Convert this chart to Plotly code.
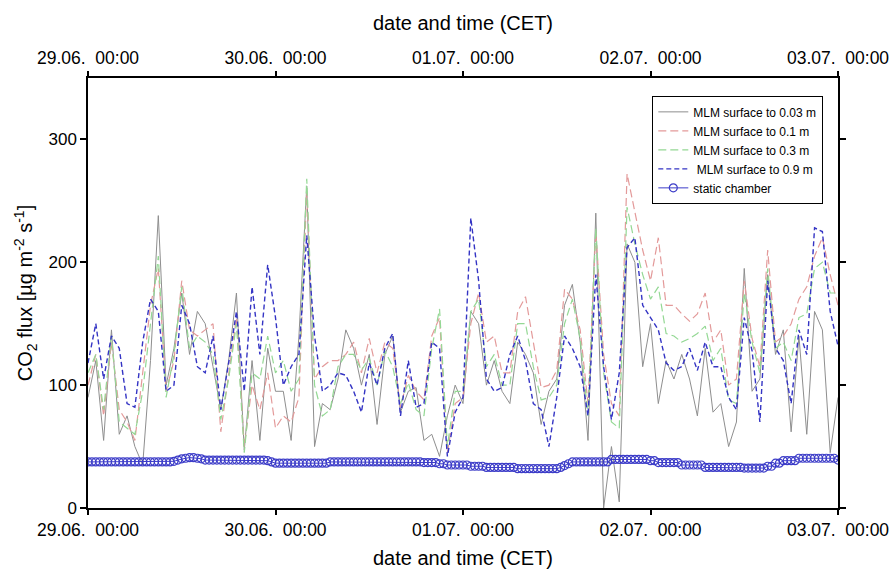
import pandas as pd
import plotly.graph_objects as go

# ---------------- data ----------------
start = "2010-06-29 00:00"
hours = pd.date_range(start, periods=97, freq="1h")
half_hours = pd.date_range(start, periods=193, freq="30min")

mlm_003 = [90, 120, 55, 145, 60, 75, 50, 35, 120, 238, 100, 130, 175, 125, 160, 150, 115, 80, 120, 175, 47, 120, 55, 130, 95,
           95, 55, 140, 262, 50, 85, 80, 105, 145, 130, 100, 125, 68, 125, 140, 78, 95, 98, 55, 60, 42, 75, 100, 85,
           160, 150, 100, 120, 95, 85, 135, 125, 110, 68, 95, 105, 165, 182, 135, 55, 240, 0, 50, 5, 215, 200, 115, 150,
           85, 120, 105, 125, 105, 75, 130, 78, 85, 50, 70, 195, 95, 105, 190, 125, 145, 62, 140, 60, 160, 145, 45, 90]

mlm_01 = [100, 125, 75, 135, 80, 70, 55, 110, 165, 195, 95, 120, 185, 145, 140, 145, 150, 62, 110, 155, 50, 100, 80, 110, 65,
          75, 70, 90, 258, 105, 115, 120, 120, 125, 135, 110, 138, 110, 135, 130, 82, 108, 95, 88, 140, 155, 45, 85, 90,
          150, 175, 135, 140, 110, 110, 160, 172, 135, 98, 100, 112, 178, 170, 145, 85, 225, 125, 85, 75, 272, 240, 210, 185,
          220, 165, 165, 158, 152, 158, 175, 135, 145, 100, 105, 185, 138, 115, 210, 135, 140, 150, 170, 180, 205, 220, 190, 165]

mlm_03 = [110, 125, 80, 140, 70, 65, 60, 95, 150, 205, 90, 125, 180, 130, 140, 135, 125, 72, 105, 150, 45, 110, 105, 140, 110,
          120, 95, 105, 268, 100, 75, 80, 115, 125, 125, 112, 122, 100, 128, 115, 85, 102, 80, 75, 130, 162, 50, 95, 95,
          160, 170, 115, 125, 100, 100, 150, 150, 115, 88, 90, 100, 150, 170, 138, 75, 228, 110, 70, 65, 245, 215, 190, 170,
          180, 142, 140, 135, 138, 142, 148, 120, 130, 88, 85, 175, 135, 110, 195, 130, 135, 120, 155, 158, 195, 200, 175, 175]

mlm_09 = [118, 150, 105, 140, 130, 85, 82, 135, 170, 160, 95, 100, 165, 150, 115, 110, 140, 80, 118, 160, 95, 180, 125, 198, 155,
          100, 115, 125, 222, 140, 95, 100, 110, 108, 95, 78, 118, 100, 130, 142, 75, 120, 82, 85, 135, 130, 42, 78, 90,
          236, 185, 105, 95, 98, 125, 140, 120, 85, 80, 50, 90, 140, 130, 115, 75, 190, 115, 72, 110, 212, 220, 165, 155,
          145, 118, 112, 115, 130, 112, 135, 115, 115, 90, 80, 155, 128, 70, 185, 130, 120, 85, 145, 125, 228, 225, 160, 132]

chamber = [37.5, 37.5, 37.5, 37.5, 37.5, 37.5, 37.5, 37.5, 37.5, 37.5, 37.5,
           37.5, 37.5, 37.5, 37.5, 37.5, 37.5, 37.5, 37.5, 37.5, 37.5, 37.5,
           38, 39, 40, 40.5, 41, 41, 40.5, 40,
           39, 39, 39, 39, 39, 39, 39, 39, 39, 39, 39, 39, 39, 39, 39, 39,
           38.5, 37.5,
           36.5, 36.5, 36.5, 36.5, 36.5, 36.5, 36.5, 36.5, 36.5, 36.5, 36.5, 36.5, 36.5, 36.5,
           37.5, 37.5, 37.5, 37.5, 37.5, 37.5, 37.5, 37.5, 37.5, 37.5, 37.5, 37.5,
           37.5, 37.5, 37.5, 37.5, 37.5, 37.5, 37.5, 37.5, 37.5, 37.5, 37.5, 37.5,
           37, 37, 37, 37,
           36, 36,
           35, 35, 35, 35, 35, 35,
           34, 34, 34, 34,
           33, 33, 33, 33, 33, 33, 33, 33,
           32, 32, 32, 32, 32, 32, 32, 32, 32, 32, 32,
           33, 34.5, 36,
           37.5, 37.5, 37.5, 37.5, 37.5, 37.5, 37.5, 37.5, 37.5, 37.5,
           39.5, 39.5, 39.5, 39.5, 39.5, 39.5, 39.5, 39.5, 39.5, 39.5,
           38.5, 38.5,
           37, 37, 37, 37, 37, 37,
           35, 35, 35, 35, 35, 35,
           33, 33, 33, 33, 33, 33, 33, 33, 33, 33,
           32.5, 32.5, 32.5, 32.5, 32.5, 32.5,
           34, 34,
           36.5, 36.5,
           38.5, 38.5, 38.5, 38.5,
           40.5, 40.5, 40.5, 40.5, 40.5, 40.5, 40.5, 40.5, 40.5, 40.5,
           39]

tick_dates = ["2010-06-29 00:00", "2010-06-30 00:00", "2010-07-01 00:00", "2010-07-02 00:00", "2010-07-03 00:00"]
tick_labels = ["29.06.", "30.06.", "01.07.", "02.07.", "03.07."]
tick_time = "00:00"
y_ticks = [0, 100, 200, 300]

# ---------------- figure ----------------
FONT = "Liberation Sans, Arial, sans-serif"
ticktext = [f"{d}\u00a0\u00a0{tick_time}" for d in tick_labels]
x_range = [tick_dates[0], tick_dates[-1]]

fig = go.Figure()
fig.add_trace(go.Scatter(x=hours, y=mlm_003, name="MLM surface to 0.03 m", mode="lines",
                         line=dict(color="#8e8e8e", width=1)))
fig.add_trace(go.Scatter(x=hours, y=mlm_01, name="MLM surface to 0.1 m", mode="lines",
                         line=dict(color="#e39a9a", width=1.2, dash="8px,4px")))
fig.add_trace(go.Scatter(x=hours, y=mlm_03, name="MLM surface to 0.3 m", mode="lines",
                         line=dict(color="#94d894", width=1.2, dash="8px,4px")))
fig.add_trace(go.Scatter(x=hours, y=mlm_09, name="\u00a0MLM surface to 0.9 m", mode="lines",
                         line=dict(color="#3434c4", width=1.4, dash="5px,3px")))
# chamber drawn against the top time axis (identical range) so that the top axis is rendered
fig.add_trace(go.Scatter(x=half_hours, y=chamber, name="static chamber", mode="lines+markers",
                         xaxis="x2", yaxis="y",
                         line=dict(color="#3c3cc8", width=1),
                         marker=dict(symbol="circle-open", size=8, color="#3c3cc8", line=dict(width=1.2))))

axis_common = dict(type="date", range=x_range, tickvals=tick_dates, ticktext=ticktext,
                   showline=True, linecolor="black", linewidth=1.5, ticks="outside", ticklen=5,
                   tickcolor="black", tickwidth=1.5, showgrid=False, zeroline=False,
                   ticklabeloverflow="allow", automargin=False,
                   tickfont=dict(family=FONT, size=17.5, color="black"))

fig.update_layout(
    width=890, height=571,
    margin=dict(l=88, r=52, t=78, b=63),
    paper_bgcolor="white", plot_bgcolor="white",
    font=dict(family=FONT, color="black"),
    xaxis=dict(**axis_common, side="bottom",
               title=dict(text="date and time (CET)", font=dict(family=FONT, size=20), standoff=12)),
    xaxis2=dict(**axis_common, overlaying="x", side="top", anchor="y",
                title=dict(text="date and time (CET)", font=dict(family=FONT, size=20), standoff=12)),
    yaxis=dict(range=[0, 350], tickvals=y_ticks, showline=True, linecolor="black", linewidth=1.5,
               mirror="ticks", ticks="outside", ticklen=6, tickcolor="black", tickwidth=1.5,
               showgrid=False, zeroline=False, automargin=False,
               tickfont=dict(family=FONT, size=17, color="black"),
               title=dict(text="CO<sub>2</sub> flux [µg m<sup>-2</sup> s<sup>-1</sup>]",
                          font=dict(family=FONT, size=20), standoff=10)),
    legend=dict(x=0.98, y=0.958, xanchor="right", yanchor="top",
                bgcolor="white", bordercolor="black", borderwidth=1.3,
                font=dict(family=FONT, size=12, color="black"),
                tracegroupgap=0),
    showlegend=True,
)

fig.write_html("out.html")
